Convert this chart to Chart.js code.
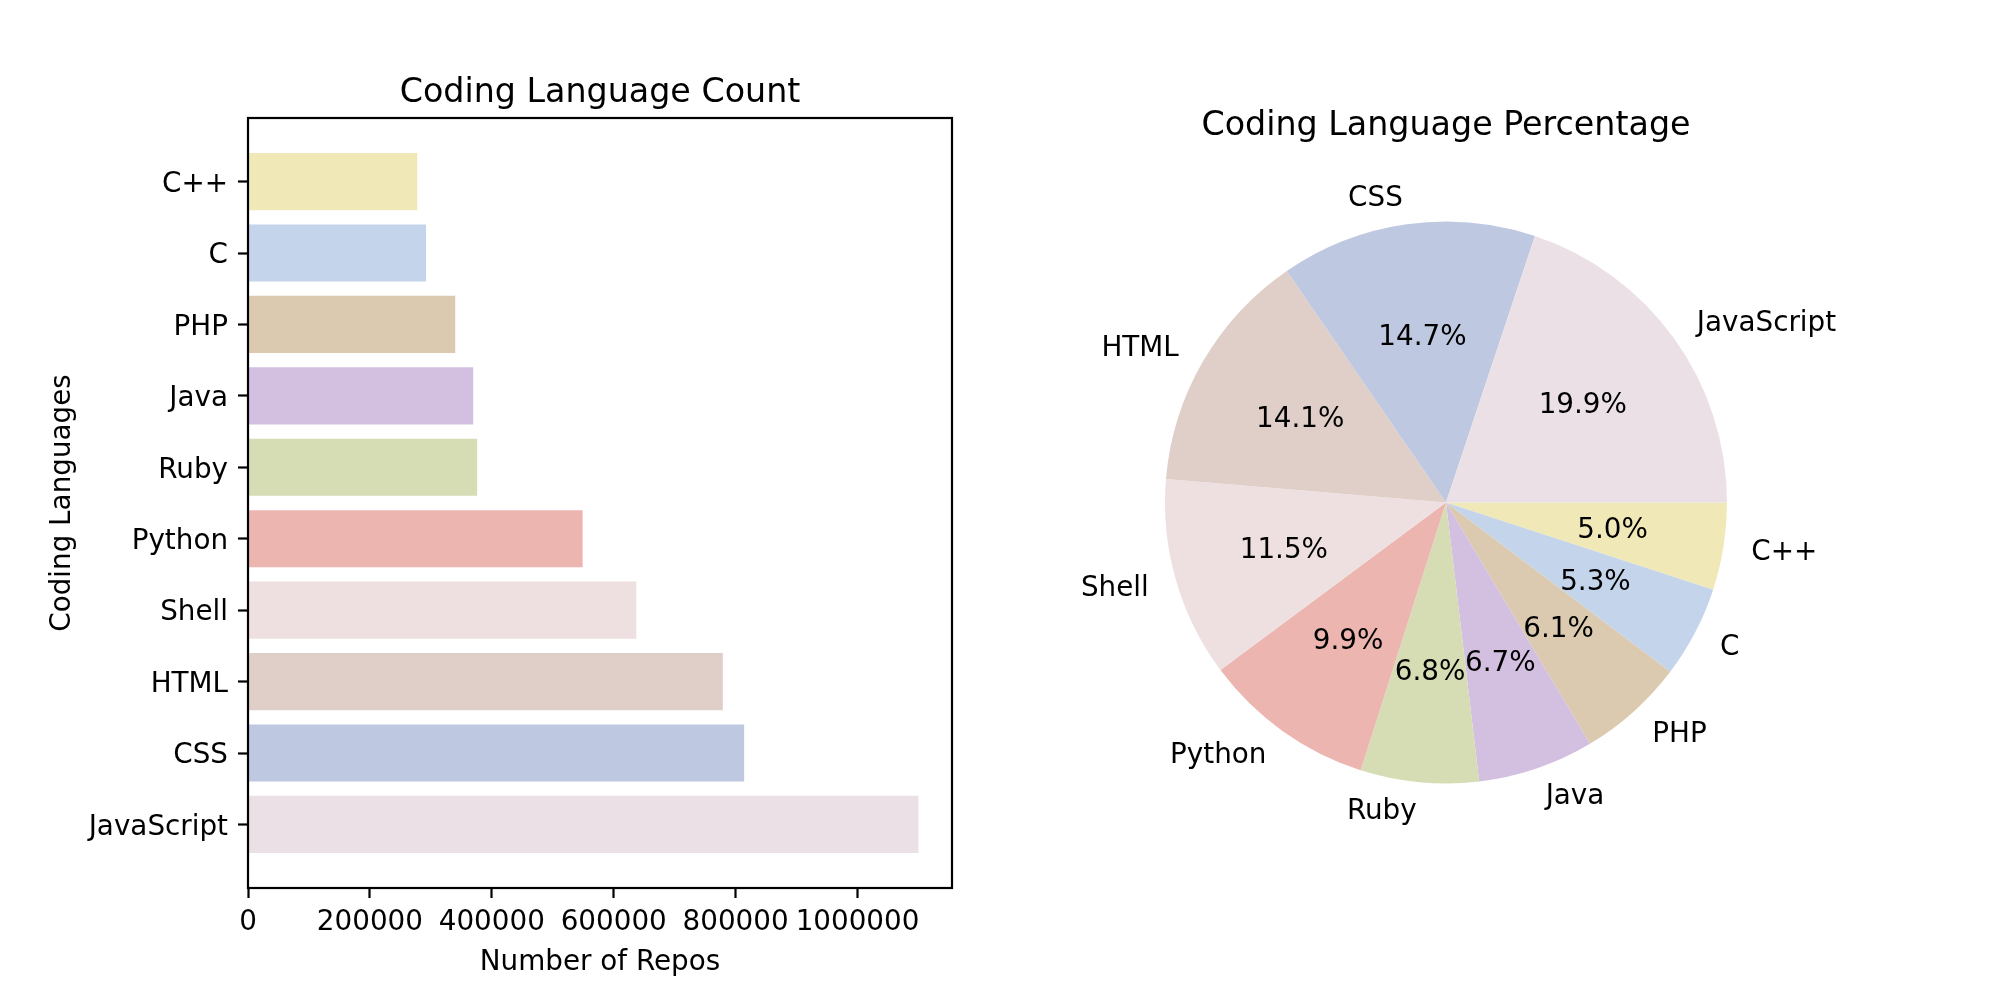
<!DOCTYPE html>
<html><head><meta charset="utf-8">
<script src="https://cdn.jsdelivr.net/npm/chart.js@4"></script>
<style>
html,body{margin:0;padding:0;background:#fff;width:1994px;height:998px;overflow:hidden;}
#bar{position:absolute;left:0;top:0;}
#pie{position:absolute;left:1000px;top:0;}
</style></head><body>
<canvas id="bar" width="1000" height="998"></canvas>
<canvas id="pie" width="994" height="998"></canvas>
<script>
// ---- data ----
const languages = ['JavaScript', 'CSS', 'HTML', 'Shell', 'Python', 'Ruby', 'Java', 'PHP', 'C', 'C++'];
const repoCounts = [1100000, 814000, 779000, 637000, 549000, 376000, 369500, 340000, 292000, 277700];
const langColors = ['#EAE0E6', '#BEC8E0', '#DFCFC8', '#EEE0E0', '#ECB5B0', '#D6DDB4', '#D3BFE0', '#DBCAB0', '#C4D4EA', '#F0E9B7'];
const xTickValues = [0, 200000, 400000, 600000, 800000, 1000000];
const barTitle = 'Coding Language Count';
const pieTitle = 'Coding Language Percentage';
const xAxisTitle = 'Number of Repos';
const yAxisTitle = 'Coding Languages';

const FONT = "'DejaVu Sans'";
const TICK_PX = 27.8;
const TITLE_PX = 33.3;
const LW = 2.2;
const TEXT_DY = 2;
Chart.defaults.font.family = FONT;
Chart.defaults.color = '#000';

const titlePlugin = {
  id: 'customTitle',
  afterDraw(chart, args, opts) {
    const ctx = chart.ctx, ca = chart.chartArea;
    let x, y;
    if (opts.mode === 'area') {
      x = (ca.left + ca.right) / 2; y = ca.top - opts.gap;
    } else {
      const arc = chart.getDatasetMeta(0).data[0];
      x = arc.x; y = arc.y - arc.outerRadius - opts.gap;
    }
    ctx.save();
    ctx.font = TITLE_PX + 'px ' + FONT;
    ctx.fillStyle = '#000';
    ctx.textAlign = 'center';
    ctx.textBaseline = 'alphabetic';
    ctx.fillText(opts.text, x, y);
    ctx.restore();
  }
};

const framePlugin = {
  id: 'frame',
  afterDraw(chart) {
    const ctx = chart.ctx, ca = chart.chartArea;
    ctx.save();
    ctx.strokeStyle = '#000';
    ctx.lineWidth = LW;
    ctx.strokeRect(ca.left, ca.top, ca.right - ca.left, ca.bottom - ca.top);
    ctx.restore();
  }
};

// ---- bar chart ----
const barData = repoCounts.map((v, i) => ({x: v, y: i}));
const nCat = languages.length;
const yMin = -0.4 - 0.05 * (nCat - 1 + 0.8);
const yMax = (nCat - 1) + 0.4 + 0.05 * (nCat - 1 + 0.8);
const xMax = Math.max(...repoCounts) * 1.05;

new Chart(document.getElementById('bar'), {
  type: 'bar',
  data: {
    datasets: [{
      data: barData,
      backgroundColor: langColors,
      borderWidth: 0,
      barPercentage: 0.8,
      categoryPercentage: 1.0
    }]
  },
  options: {
    indexAxis: 'y',
    responsive: false,
    animation: false,
    layout: {padding: {left: 0, right: 48, top: 118, bottom: 0}},
    plugins: {
      legend: {display: false},
      tooltip: {enabled: false},
      customTitle: {text: barTitle, mode: 'area', gap: 16.3}
    },
    scales: {
      x: {
        type: 'linear',
        min: 0,
        max: xMax,
        offset: false,
        afterBuildTicks: s => { s.ticks = xTickValues.map(v => ({value: v})); },
        afterFit: s => { s.height = 110; },
        ticks: {
          autoSkip: false, maxRotation: 0, padding: 8,
          font: {size: TICK_PX},
          callback: v => String(v)
        },
        grid: {offset: false, drawOnChartArea: false, drawTicks: true, tickLength: 10, tickColor: '#000', tickWidth: LW},
        border: {display: false},
        title: {display: true, text: xAxisTitle, font: {size: TICK_PX}, padding: {top: 0, bottom: 19}}
      },
      y: {
        type: 'linear',
        min: yMin,
        max: yMax,
        offset: false,
        afterBuildTicks: s => { s.ticks = languages.map((_, i) => ({value: i})); },
        afterFit: s => { s.width = 248; },
        ticks: {
          autoSkip: false, padding: 10, labelOffset: 3,
          font: {size: TICK_PX},
          callback: v => languages[v]
        },
        grid: {offset: false, drawOnChartArea: false, drawTicks: true, tickLength: 10, tickColor: '#000', tickWidth: LW},
        border: {display: false},
        title: {display: true, text: yAxisTitle, font: {size: TICK_PX}, padding: {top: 46, bottom: 0}}
      }
    }
  },
  plugins: [framePlugin, titlePlugin]
});

// ---- pie chart ----
const pieLabels = languages.slice().reverse();
const pieValues = repoCounts.slice().reverse();
const pieColors = langColors.slice().reverse();
const pieTotal = pieValues.reduce((a, b) => a + b, 0);

const pieLabelPlugin = {
  id: 'pieLabels',
  afterDraw(chart) {
    const ctx = chart.ctx;
    const meta = chart.getDatasetMeta(0);
    ctx.save();
    ctx.font = TICK_PX + 'px ' + FONT;
    ctx.fillStyle = '#000';
    ctx.textBaseline = 'middle';
    meta.data.forEach((arc, i) => {
      const p = arc.getProps(['x', 'y', 'startAngle', 'endAngle', 'outerRadius'], true);
      const mid = (p.startAngle + p.endAngle) / 2;
      const c = Math.cos(mid), s = Math.sin(mid);
      ctx.textAlign = c > 0 ? 'left' : 'right';
      ctx.fillText(pieLabels[i], p.x + c * 1.1 * p.outerRadius, p.y + s * 1.1 * p.outerRadius + TEXT_DY);
      ctx.textAlign = 'center';
      const pct = (pieValues[i] / pieTotal * 100).toFixed(1) + '%';
      ctx.fillText(pct, p.x + c * 0.6 * p.outerRadius, p.y + s * 0.6 * p.outerRadius + TEXT_DY);
    });
    ctx.restore();
  }
};

new Chart(document.getElementById('pie'), {
  type: 'pie',
  data: {
    labels: pieLabels,
    datasets: [{
      data: pieValues,
      backgroundColor: pieColors,
      borderWidth: 0,
      hoverOffset: 0
    }]
  },
  options: {
    responsive: false,
    animation: false,
    rotation: 90,
    layout: {padding: {left: 165, right: 267, top: 221.5, bottom: 214.5}},
    plugins: {
      legend: {display: false},
      tooltip: {enabled: false},
      customTitle: {text: pieTitle, mode: 'arc', gap: 87}
    }
  },
  plugins: [pieLabelPlugin, titlePlugin]
});
</script>
</body></html>
